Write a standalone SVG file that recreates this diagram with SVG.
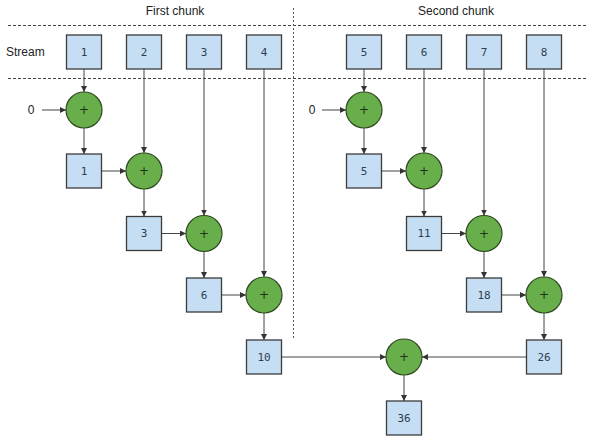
<svg xmlns="http://www.w3.org/2000/svg" width="593" height="442" viewBox="0 0 593 442">
<defs>
<marker id="ah" viewBox="0 0 8 8" refX="8" refY="4" markerWidth="6" markerHeight="6" markerUnits="userSpaceOnUse" orient="auto">
<path d="M0,0 L8,4 L0,8 z" fill="#333"/>
</marker>
<style>
.box{fill:#c6def3;stroke:#3b3b3b;stroke-width:1.3}
.op{fill:#68ae4a;stroke:#2f4a22;stroke-width:1.2}
.num{font-family:"DejaVu Sans Mono","Liberation Mono",monospace;font-size:11px;fill:#2e3e52;text-anchor:middle;dominant-baseline:central}
.plus{font-family:"DejaVu Sans","Liberation Sans",sans-serif;font-size:12px;fill:#1f3318;text-anchor:middle;dominant-baseline:central}
.lbl{font-family:"Liberation Sans",Arial,sans-serif;font-size:12px;fill:#222}
.c{stroke:#444;stroke-width:1;fill:none;marker-end:url(#ah)}
.sep{stroke:#444;stroke-width:1;stroke-dasharray:3,2;fill:none}
.vsep{stroke:#555;stroke-width:1;stroke-dasharray:2,2;fill:none}
</style>
</defs>
<rect width="593" height="442" fill="#fff"/>
<g id="separators">
<line class="sep" x1="8" y1="25.5" x2="588" y2="25.5"/>
<line class="sep" x1="8" y1="78.5" x2="588" y2="78.5"/>
<line class="vsep" x1="293.5" y1="8" x2="293.5" y2="339"/>
</g>
<g id="labels">
<text class="lbl" x="175" y="15" text-anchor="middle">First chunk</text>
<text class="lbl" x="456" y="15" text-anchor="middle">Second chunk</text>
<text class="lbl" x="6" y="56">Stream</text>
<text class="lbl" x="31" y="114" text-anchor="middle">0</text>
<text class="lbl" x="312" y="114" text-anchor="middle">0</text>
</g>
<g id="connectors">
<line class="c" x1="84" y1="69" x2="84" y2="92"/>
<line class="c" x1="42" y1="110" x2="66" y2="110"/>
<line class="c" x1="84" y1="128" x2="84" y2="154"/>
<line class="c" x1="101.5" y1="171" x2="126" y2="171"/>
<line class="c" x1="144" y1="69" x2="144" y2="153"/>
<line class="c" x1="144" y1="189" x2="144" y2="216.5"/>
<line class="c" x1="161.5" y1="233.5" x2="186" y2="233.5"/>
<line class="c" x1="204" y1="69" x2="204" y2="215.5"/>
<line class="c" x1="204" y1="251.5" x2="204" y2="278"/>
<line class="c" x1="221.5" y1="295" x2="246" y2="295"/>
<line class="c" x1="264" y1="69" x2="264" y2="277"/>
<line class="c" x1="264" y1="313" x2="264" y2="340"/>

<line class="c" x1="364" y1="69" x2="364" y2="92"/>
<line class="c" x1="322" y1="110" x2="346" y2="110"/>
<line class="c" x1="364" y1="128" x2="364" y2="154"/>
<line class="c" x1="381.5" y1="171" x2="406" y2="171"/>
<line class="c" x1="424" y1="69" x2="424" y2="153"/>
<line class="c" x1="424" y1="189" x2="424" y2="216.5"/>
<line class="c" x1="441.5" y1="233.5" x2="466" y2="233.5"/>
<line class="c" x1="484" y1="69" x2="484" y2="215.5"/>
<line class="c" x1="484" y1="251.5" x2="484" y2="278"/>
<line class="c" x1="501.5" y1="295" x2="526" y2="295"/>
<line class="c" x1="544" y1="69" x2="544" y2="277"/>
<line class="c" x1="544" y1="313" x2="544" y2="340"/>

<line class="c" x1="281.5" y1="357" x2="386" y2="357"/>
<line class="c" x1="526.5" y1="357" x2="422" y2="357"/>
<line class="c" x1="404" y1="375" x2="404" y2="401"/>
</g>
<g id="s1"><rect class="box" x="66.5" y="35" width="35" height="34"/><text class="num" x="84" y="52">1</text></g>
<g id="s2"><rect class="box" x="126.5" y="35" width="35" height="34"/><text class="num" x="144" y="52">2</text></g>
<g id="s3"><rect class="box" x="186.5" y="35" width="35" height="34"/><text class="num" x="204" y="52">3</text></g>
<g id="s4"><rect class="box" x="246.5" y="35" width="35" height="34"/><text class="num" x="264" y="52">4</text></g>
<g id="s5"><rect class="box" x="346.5" y="35" width="35" height="34"/><text class="num" x="364" y="52">5</text></g>
<g id="s6"><rect class="box" x="406.5" y="35" width="35" height="34"/><text class="num" x="424" y="52">6</text></g>
<g id="s7"><rect class="box" x="466.5" y="35" width="35" height="34"/><text class="num" x="484" y="52">7</text></g>
<g id="s8"><rect class="box" x="526.5" y="35" width="35" height="34"/><text class="num" x="544" y="52">8</text></g>

<g id="p1"><circle class="op" cx="84" cy="110" r="18"/><text class="plus" x="84" y="110">+</text></g>
<g id="r1"><rect class="box" x="66.5" y="154" width="35" height="34"/><text class="num" x="84" y="171">1</text></g>
<g id="p2"><circle class="op" cx="144" cy="171" r="18"/><text class="plus" x="144" y="171">+</text></g>
<g id="r3"><rect class="box" x="126.5" y="216.5" width="35" height="34"/><text class="num" x="144" y="233.5">3</text></g>
<g id="p3"><circle class="op" cx="204" cy="233.5" r="18"/><text class="plus" x="204" y="233.5">+</text></g>
<g id="r6"><rect class="box" x="186.5" y="278" width="35" height="34"/><text class="num" x="204" y="295">6</text></g>
<g id="p4"><circle class="op" cx="264" cy="295" r="18"/><text class="plus" x="264" y="295">+</text></g>
<g id="r10"><rect class="box" x="246.5" y="340" width="35" height="34"/><text class="num" x="264" y="357">10</text></g>

<g id="p5"><circle class="op" cx="364" cy="110" r="18"/><text class="plus" x="364" y="110">+</text></g>
<g id="r5"><rect class="box" x="346.5" y="154" width="35" height="34"/><text class="num" x="364" y="171">5</text></g>
<g id="p6"><circle class="op" cx="424" cy="171" r="18"/><text class="plus" x="424" y="171">+</text></g>
<g id="r11"><rect class="box" x="406.5" y="216.5" width="35" height="34"/><text class="num" x="424" y="233.5">11</text></g>
<g id="p7"><circle class="op" cx="484" cy="233.5" r="18"/><text class="plus" x="484" y="233.5">+</text></g>
<g id="r18"><rect class="box" x="466.5" y="278" width="35" height="34"/><text class="num" x="484" y="295">18</text></g>
<g id="p8"><circle class="op" cx="544" cy="295" r="18"/><text class="plus" x="544" y="295">+</text></g>
<g id="r26"><rect class="box" x="526.5" y="340" width="35" height="34"/><text class="num" x="544" y="357">26</text></g>

<g id="pf"><circle class="op" cx="404" cy="357" r="18"/><text class="plus" x="404" y="357">+</text></g>
<g id="r36"><rect class="box" x="386.5" y="401" width="35" height="34"/><text class="num" x="404" y="418">36</text></g>
</svg>
